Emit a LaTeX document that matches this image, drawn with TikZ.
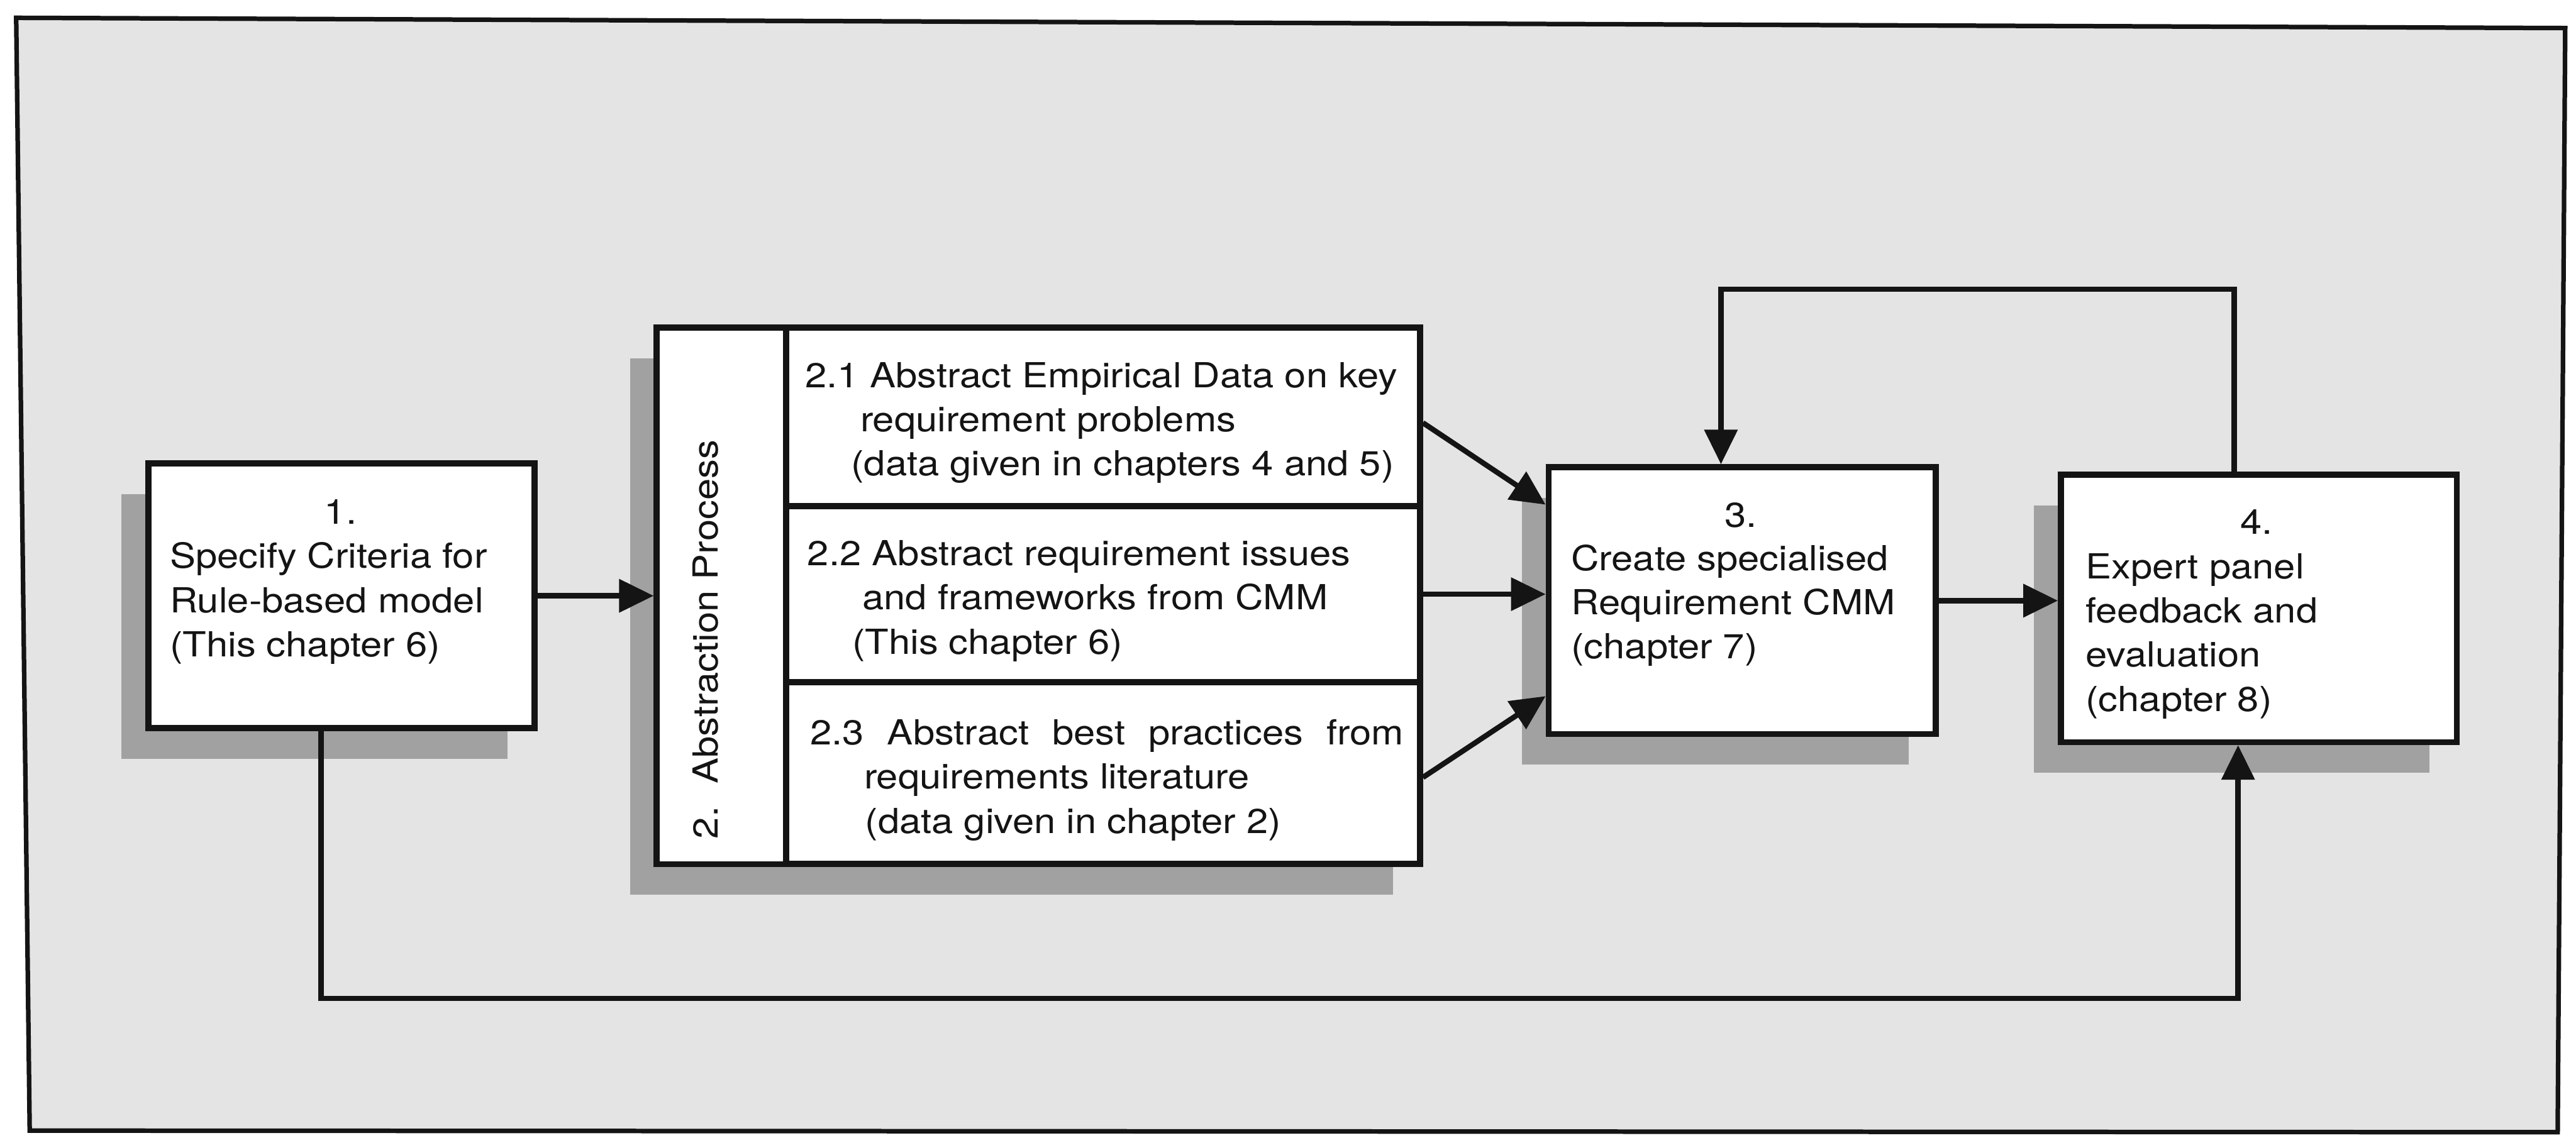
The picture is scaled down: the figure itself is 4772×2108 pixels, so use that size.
\documentclass[tikz,border=0pt]{standalone}
\usepackage{fontspec}
\setmainfont{TeX Gyre Heros}[FakeStretch=1.12]
\usetikzlibrary{arrows.meta,calc}
\definecolor{paper}{gray}{0.895}
\definecolor{shadowgray}{gray}{0.63}
\definecolor{ink}{gray}{0.08}
\newcommand\txtblock[1]{\begin{tabular}[t]{@{}l@{}}#1\end{tabular}}
\begin{document}
\begin{tikzpicture}[x=0.01cm, y=-0.01cm,
  box/.style={draw=ink, line width=3.2pt, fill=white, inner sep=0pt},
  txt/.style={inner sep=0pt, text=ink, font=\fontsize{18.2}{23.3}\selectfont},
  link/.style={draw=ink, line width=2.8pt, -{Triangle[length=6.4mm,width=6mm]}}]
\useasboundingbox (0,0) rectangle (4772,2108);

% textured panel behind the whole flow
\draw[ink, line width=2.4pt, fill=paper] (30,33) -- (4752,52) -- (4738,2098) -- (55,2095) -- cycle;

% drop shadows of the boxes
\fill[shadowgray] (225,916) rectangle (940,1406);
\fill[shadowgray] (1167,664) rectangle (2580,1658);
\fill[shadowgray] (2819,923) rectangle (3536,1417);
\fill[shadowgray] (3768,937) rectangle (4501,1432);

% boxes
\node[box, minimum width=7.15cm, minimum height=4.90cm] (b1) at (632.5,1104) {};
\node[box, minimum width=14.13cm, minimum height=9.94cm] (b2) at (1923.5,1104) {};
\node[box, minimum width=11.73cm, minimum height=3.31cm] (b21) at (2043.5,772.5) {};
\node[box, minimum width=11.73cm, minimum height=3.26cm] (b22) at (2043.5,1101) {};
\node[box, minimum width=11.73cm, minimum height=3.37cm] (b23) at (2043.5,1432.5) {};
\node[box, minimum width=7.17cm, minimum height=4.94cm] (b3) at (3227.5,1113) {};
\node[box, minimum width=7.33cm, minimum height=4.95cm] (b4) at (4184.5,1127.5) {};

% box texts
\node[txt, anchor=base] (n1) at (631,971) {1.};
\node[txt, anchor=base west] (t1) at (314,1053) {\txtblock{Specify Criteria for\\Rule-based model\\(This chapter 6)}};

\node[txt, rotate=90, anchor=base west] (v2) at (1330,1555) {2.\hspace{12pt}Abstraction Process};

\node[txt, anchor=base west] (t21) at (1491,718) {\txtblock{2.1 Abstract Empirical Data on key\\
  \hspace*{1.02cm}requirement problems\\
  \hspace*{0.85cm}(data given in chapters 4 and 5)}};
\node[txt, anchor=base west] (t22) at (1495,1048) {\txtblock{2.2 Abstract requirement issues\\
  \hspace*{1.02cm}and frameworks from CMM\\
  \hspace*{0.83cm}(This chapter 6)}};
\node[txt, anchor=base west] (t23) at (1500,1380) {\txtblock{\makebox[10.99cm][s]{2.3 Abstract best practices from}\\
  \hspace*{1.00cm}requirements literature\\
  \hspace*{1.02cm}(data given in chapter 2)}};

\node[txt, anchor=base] (n3) at (3225,977) {3.};
\node[txt, anchor=base west] (t3) at (2910,1057) {\txtblock{Create specialised\\Requirement CMM\\(chapter 7)}};

\node[txt, anchor=base] (n4) at (4180,990) {4.};
\node[txt, anchor=base west] (t4) at (3863,1072) {\txtblock{Expert panel\\feedback and\\evaluation\\(chapter 8)}};

% connectors
\draw[link] (b1.east) -- (b1.east -| b2.west);
\draw[link] ($(b21.east)+(0,11)$) -- ($(b3.north west)!0.148!(b3.south west)$);
\draw[link] (b22.east) -- (b22.east -| b3.west);
\draw[link] ($(b23.east)+(0,8)$) -- ($(b3.north west)!0.85!(b3.south west)$);
\draw[link] (b3.east) -- (b3.east -| b4.west);

\coordinate (fbR) at (4139,536);
\coordinate (fbL) at (3188,536);
\draw[link] (fbR |- b4.north) -- (fbR) -- (fbL) -- (fbL |- b3.north);

\coordinate (lpL) at (595,1850);
\coordinate (lpR) at (4146,1850);
\draw[link] (lpL |- b1.south) -- (lpL) -- (lpR) -- (lpR |- b4.south);
\end{tikzpicture}
\end{document}
